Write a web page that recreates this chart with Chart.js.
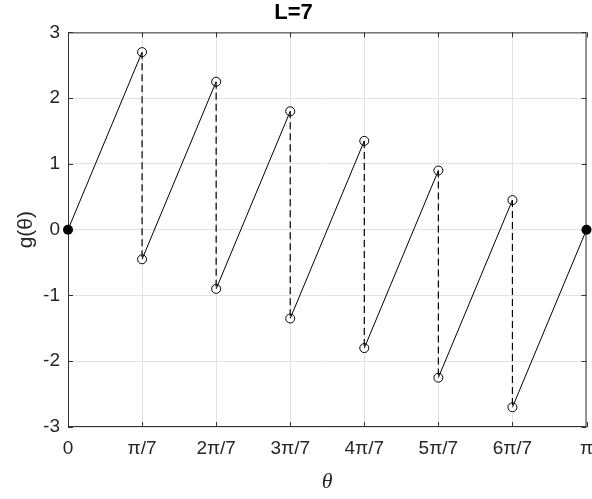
<!DOCTYPE html>
<html>
<head>
<meta charset="utf-8">
<script src="https://cdn.jsdelivr.net/npm/chart.js@4/dist/chart.umd.min.js"></script>
<style>
  body { margin: 0; background: #fff; }
  #wrap { width: 592px; height: 499px; }
</style>
</head>
<body>
<div id="wrap"><canvas id="g-chart" width="592" height="499"></canvas></div>
<script>
// x ticks: multiples of pi/7
const tickLabels = ['0', 'π/7', '2π/7', '3π/7', '4π/7', '5π/7', '6π/7', 'π'];
const yTicks = [-3, -2, -1, 0, 1, 2, 3];

// values just left of each jump (k = 1..6) and just right of it
const jumpTop = [2.7, 2.25, 1.8, 1.35, 0.9, 0.45];
const jumpBottom = [-0.45, -0.9, -1.35, -1.8, -2.25, -2.7];

// values at theta = 0 and theta = pi
const endValues = [0, 0];

const step = Math.PI / 7;
const ink = '#000000';
const textColor = '#262626';

const datasets = [];

// solid rising pieces
for (let k = 0; k < 7; k++) {
  const y0 = k === 0 ? endValues[0] : jumpBottom[k - 1];
  const y1 = k === 6 ? endValues[1] : jumpTop[k];
  datasets.push({
    data: [{ x: k * step, y: y0 }, { x: (k + 1) * step, y: y1 }],
    showLine: true,
    borderColor: ink,
    borderWidth: 1,
    pointRadius: 0
  });
}

// dashed jumps
for (let k = 1; k < 7; k++) {
  datasets.push({
    data: [{ x: k * step, y: jumpTop[k - 1] }, { x: k * step, y: jumpBottom[k - 1] }],
    showLine: true,
    borderColor: ink,
    borderWidth: 1.2,
    borderDash: [7, 4],
    pointRadius: 0
  });
}

// open circles at the jumps
const openPts = [];
for (let k = 1; k < 7; k++) {
  openPts.push({ x: k * step, y: jumpTop[k - 1] });
  openPts.push({ x: k * step, y: jumpBottom[k - 1] });
}
datasets.push({
  data: openPts,
  showLine: false,
  pointRadius: 4.5,
  pointBorderWidth: 1,
  pointBorderColor: ink,
  pointBackgroundColor: '#ffffff'
});

// filled end points
datasets.push({
  data: [{ x: 0, y: endValues[0] }, { x: Math.PI, y: endValues[1] }],
  showLine: false,
  pointRadius: 5,
  pointBorderWidth: 0,
  pointBackgroundColor: ink,
  clip: false
});

// box around the plot with inward tick marks
const boxPlugin = {
  id: 'box',
  beforeDatasetsDraw(chart) {
    const { ctx, chartArea: a, scales } = chart;
    ctx.save();
    ctx.strokeStyle = '#333333';
    ctx.lineWidth = 1;
    ctx.strokeRect(a.left + 0.5, a.top + 0.5, a.right - a.left - 1, a.bottom - a.top - 1);
    ctx.beginPath();
    scales.x.ticks.forEach(t => {
      const px = Math.round(scales.x.getPixelForValue(t.value)) + 0.5;
      ctx.moveTo(px, a.bottom); ctx.lineTo(px, a.bottom - 5);
      ctx.moveTo(px, a.top); ctx.lineTo(px, a.top + 5);
    });
    scales.y.ticks.forEach(t => {
      const py = Math.round(scales.y.getPixelForValue(t.value)) + 0.5;
      ctx.moveTo(a.left, py); ctx.lineTo(a.left + 5, py);
      ctx.moveTo(a.right, py); ctx.lineTo(a.right - 5, py);
    });
    ctx.stroke();
    ctx.restore();
  }
};

const ctx = document.getElementById('g-chart').getContext('2d');
new Chart(ctx, {
  type: 'scatter',
  data: { datasets },
  plugins: [boxPlugin],
  options: {
    responsive: false,
    animation: false,
    layout: { padding: { left: 0, right: 5, top: 0, bottom: 0 } },
    plugins: {
      legend: { display: false },
      tooltip: { enabled: false },
      title: {
        display: true,
        text: 'L=7',
        color: ink,
        font: { family: 'Liberation Sans, Arial, sans-serif', size: 22, weight: 'bold' },
        padding: { top: 0, bottom: 6 }
      }
    },
    scales: {
      x: {
        type: 'linear',
        min: 0,
        max: Math.PI,
        afterBuildTicks: axis => {
          axis.ticks = tickLabels.map((_, i) => ({ value: i * step }));
        },
        afterFit: scale => {
          scale.height = 72;
          scale.paddingLeft = 0;
          scale.paddingRight = 0;
        },
        ticks: {
          callback: (v, i) => tickLabels[i],
          color: textColor,
          font: { family: 'Liberation Sans, Arial, sans-serif', size: 19 },
          padding: 10,
          maxRotation: 0,
          autoSkip: false
        },
        grid: { color: '#e3e3e3', drawTicks: false },
        border: { display: false },
        title: {
          display: true,
          text: 'θ',
          color: textColor,
          font: { family: 'Liberation Serif, serif', size: 22, style: 'italic' },
          padding: { top: 0, bottom: 4 }
        }
      },
      y: {
        type: 'linear',
        min: -3,
        max: 3,
        afterBuildTicks: axis => {
          axis.ticks = yTicks.map(v => ({ value: v }));
        },
        afterFit: scale => { scale.width = 68; },
        ticks: {
          color: textColor,
          font: { family: 'Liberation Sans, Arial, sans-serif', size: 19 },
          padding: 8
        },
        grid: { color: '#e3e3e3', drawTicks: false },
        border: { display: false },
        title: {
          display: true,
          text: 'g(θ)',
          color: textColor,
          font: { family: 'Liberation Sans, Arial, sans-serif', size: 21 },
          padding: { top: 14, bottom: 0 }
        }
      }
    }
  }
});
</script>
</body>
</html>
